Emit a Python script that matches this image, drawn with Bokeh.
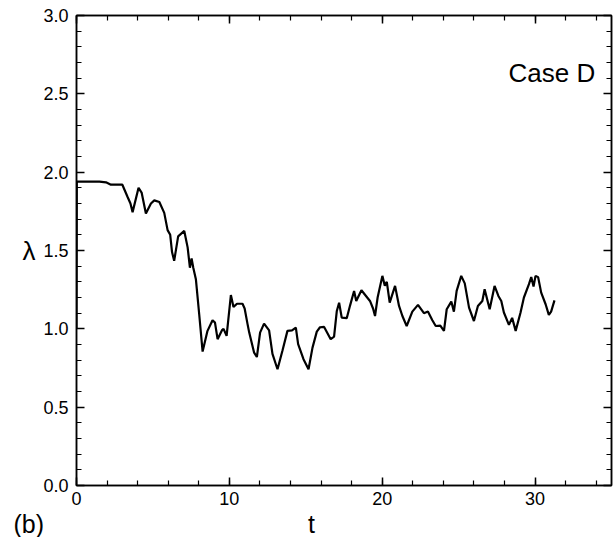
from bokeh.plotting import figure
from bokeh.models import (Range1d, LinearAxis, Label, SingleIntervalTicker, Title,
                          PrintfTickFormatter, CustomJSTickFormatter)
from bokeh.embed import file_html
from bokeh.resources import INLINE

# time series of lambda (Case D)
t = [0, 0.02, 0.5, 1.0, 1.5, 1.93, 2.25, 2.6, 3.0, 3.35, 3.53, 3.67, 4.06, 4.26, 4.54,
     4.87, 5.09, 5.42, 5.74, 5.96, 6.13, 6.25, 6.39, 6.65, 7.05, 7.27, 7.42, 7.53, 7.64,
     7.81, 8.03, 8.25, 8.57, 8.9, 9.06, 9.23, 9.51, 9.62, 9.82, 10.1, 10.27, 10.5, 10.86,
     11.0, 11.19, 11.3, 11.62, 11.8, 12.01, 12.27, 12.6, 12.82, 13.15, 13.48, 13.8, 14.1,
     14.35, 14.5, 14.85, 15.18, 15.44, 15.72, 15.93, 16.2, 16.63, 16.85, 17.03, 17.18,
     17.35, 17.68, 17.9, 18.16, 18.3, 18.64, 19.2, 19.4, 19.53, 19.7, 20.01, 20.17, 20.3,
     20.49, 20.84, 21.1, 21.32, 21.6, 21.97, 22.34, 22.73, 22.99, 23.28, 23.5, 23.8, 24.04,
     24.22, 24.52, 24.69, 24.87, 25.17, 25.4, 25.68, 26.0, 26.26, 26.55, 26.7, 27.03,
     27.35, 27.6, 27.79, 27.96, 28.29, 28.5, 28.73, 29.05, 29.27, 29.6, 29.75, 29.9, 30.03,
     30.2, 30.4, 30.69, 30.9, 31.05, 31.27]
lam = [1.0, 1.94, 1.94, 1.94, 1.94, 1.935, 1.92, 1.92, 1.92, 1.84, 1.80, 1.745, 1.90, 1.87, 1.736,
       1.80, 1.82, 1.81, 1.74, 1.63, 1.60, 1.49, 1.434, 1.59, 1.625, 1.52, 1.39, 1.45, 1.39,
       1.317, 1.09, 0.855, 0.987, 1.055, 1.04, 0.934, 0.99, 1.0, 0.955, 1.216, 1.14, 1.16, 1.16,
       1.13, 1.03, 0.976, 0.848, 0.82, 0.976, 1.033, 0.99, 0.84, 0.742, 0.863, 0.987, 0.99,
       1.008, 0.902, 0.806, 0.742, 0.88, 0.982, 1.01, 1.012, 0.934, 0.95, 1.114, 1.167,
       1.072, 1.068, 1.15, 1.242, 1.178, 1.246, 1.178, 1.13, 1.082, 1.20, 1.338, 1.275, 1.30,
       1.167, 1.274, 1.146, 1.082, 1.018, 1.11, 1.153, 1.10, 1.11, 1.055, 1.018, 1.02, 0.987,
       1.125, 1.174, 1.11, 1.242, 1.338, 1.29, 1.135, 1.05, 1.146, 1.178, 1.253, 1.125,
       1.274, 1.21, 1.178, 1.104, 1.025, 1.07, 0.987, 1.104, 1.20, 1.285, 1.331, 1.27, 1.338,
       1.33, 1.231, 1.157, 1.089, 1.11, 1.182]

FONT = "Liberation Sans"
NBSP = "\u00a0"

p = figure(width=613, height=537, output_backend="svg", toolbar_location=None,
           x_range=Range1d(0, 35), y_range=Range1d(0, 3),
           min_border_left=76, min_border_right=2, min_border_top=15, min_border_bottom=52,
           x_axis_location=None, y_axis_location=None)
p.grid.visible = False
p.outline_line_color = "black"
p.outline_line_width = 1.5
p.background_fill_color = "white"
p.border_fill_color = "white"

blank = CustomJSTickFormatter(code="return ''")


def style(ax):
    ax.axis_line_color = "black"
    ax.axis_line_width = 1.5
    ax.major_tick_in = 8
    ax.major_tick_out = 0
    ax.minor_tick_in = 5
    ax.minor_tick_out = 0
    ax.major_tick_line_width = 1.5
    ax.minor_tick_line_width = 1.2
    ax.major_label_text_font = FONT
    ax.major_label_text_font_size = "18px"
    ax.major_label_text_color = "black"
    ax.axis_label_text_font = FONT
    ax.axis_label_text_font_style = "normal"
    ax.axis_label_text_color = "black"


xt = dict(interval=10, num_minor_ticks=5)
yt = dict(interval=0.5, num_minor_ticks=5)

bottom = LinearAxis(ticker=SingleIntervalTicker(**xt))
style(bottom)
bottom.major_label_standoff = 6

top = LinearAxis(ticker=SingleIntervalTicker(**xt), formatter=blank)
style(top)
top.major_label_standoff = 0

left = LinearAxis(ticker=SingleIntervalTicker(**yt), axis_label="λ",
                  formatter=PrintfTickFormatter(format="%.1f"))
style(left)
left.major_label_standoff = 8
left.axis_label_standoff = 5
left.axis_label_orientation = "horizontal"
left.axis_label_text_font_size = "26px"

right = LinearAxis(ticker=SingleIntervalTicker(**yt), formatter=blank)
style(right)
right.major_label_standoff = 0

p.add_layout(bottom, "below")
p.add_layout(top, "above")
p.add_layout(left, "left")
p.add_layout(right, "right")

# panel tag and t-axis title share one line under the tick labels
p.add_layout(Title(text="(b)" + NBSP * 38 + "t", align="left", offset=-63, standoff=0,
                   text_font=FONT, text_font_size="25px", text_font_style="normal",
                   text_color="black"), "below")

p.line(t, lam, line_color="black", line_width=2.2)

p.add_layout(Label(x=31.1, y=2.63, text="Case D", text_font=FONT, text_font_size="26px",
                   text_align="center", text_baseline="middle", text_color="black"))

open("out.html", "w").write(file_html(p, INLINE))
